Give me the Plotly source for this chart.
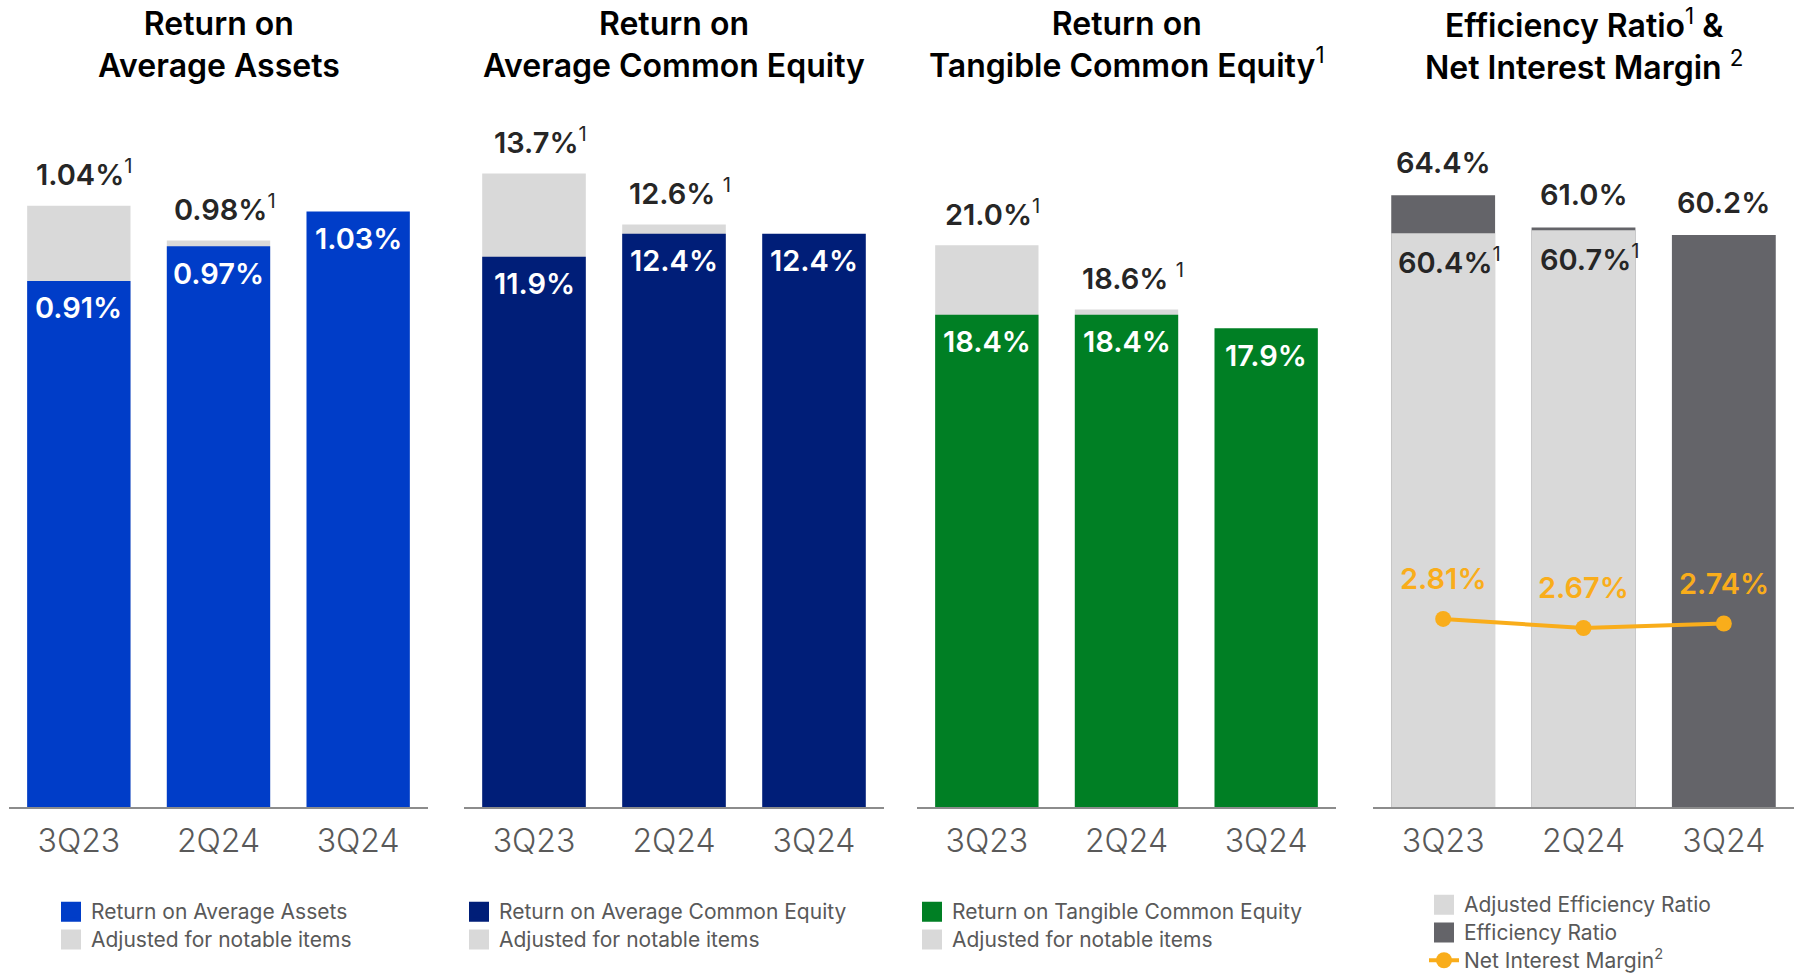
import plotly.graph_objects as go

QUARTERS = ["3Q23", "2Q24", "3Q24"]

ROAA = [0.91, 0.97, 1.03]
ROAA_ADJ = [1.04, 0.98, None]
ROACE = [11.9, 12.4, 12.4]
ROACE_ADJ = [13.7, 12.6, None]
ROTCE = [18.4, 18.4, 17.9]
ROTCE_ADJ = [21.0, 18.6, None]
EFF = [64.4, 61.0, 60.2]
EFF_ADJ = [60.4, 60.7, None]
NIM = [2.81, 2.67, 2.74]

ROAA_TOP = ["1.04%", "0.98%", None]
ROAA_IN = ["0.91%", "0.97%", "1.03%"]
ROACE_TOP = ["13.7%", "12.6% ", None]
ROACE_IN = ["11.9%", "12.4%", "12.4%"]
ROTCE_TOP = ["21.0%", "18.6% ", None]
ROTCE_IN = ["18.4%", "18.4%", "17.9%"]
EFF_TOP = ["64.4%", "61.0%", "60.2%"]
EFF_IN = ["60.4%", "60.7%", None]
NIM_TXT = ["2.81%", "2.67%", "2.74%"]

_BLUE = "#003DC8"
_NAVY = "#001E78"
_GREEN = "#007F24"
_LIGHT = "#D9D9D9"
_DARK = "#646469"
_ORANGE = "#F9AD1B"
_TEXT = "#262626"
_TICK = "#595959"
_AXIS = "#8C8C8C"
_FONT = "Inter, Lato, sans-serif"

W, H = 1797, 980
_XDOM = [(9, 428), (464, 884), (917, 1336), (1373, 1794)]
_YDOM = [(H - 807) / H, (H - 100) / H]
_SUP = "<sup><span style='font-weight:400'>1</span></sup>"

fig = go.Figure()


def _bars(vals, color, ax):
    fig.add_trace(go.Bar(
        x=QUARTERS, y=vals, marker=dict(color=color, line=dict(width=0)),
        xaxis=f"x{ax}", yaxis=f"y{ax}", showlegend=False, hoverinfo="skip",
    ))


def _name(text):
    # legend rows are spaced by the legend font; the visible text is a bit larger
    return f"<span style='font-size:21px'>{text}</span>"


def _swatch(name, color, legend):
    fig.add_trace(go.Scatter(
        x=[None], y=[None], mode="markers", name=_name(name), legend=legend,
        marker=dict(symbol="square", size=16, color=color, line=dict(width=4, color=color)),
    ))


panels = [
    (ROAA_ADJ, ROAA, _LIGHT, _BLUE),
    (ROACE_ADJ, ROACE, _LIGHT, _NAVY),
    (ROTCE_ADJ, ROTCE, _LIGHT, _GREEN),
    (EFF, EFF_ADJ, _DARK, _LIGHT),
]
for i, (back, front, cback, cfront) in enumerate(panels, start=1):
    ax = "" if i == 1 else str(i)
    _bars(back, cback, ax)
    _bars(front, cfront, ax)

_swatch("Return on Average Assets", _BLUE, "legend")
_swatch("Adjusted for notable items", _LIGHT, "legend")
_swatch("Return on Average Common Equity", _NAVY, "legend2")
_swatch("Adjusted for notable items", _LIGHT, "legend2")
_swatch("Return on Tangible Common Equity", _GREEN, "legend3")
_swatch("Adjusted for notable items", _LIGHT, "legend3")
_swatch("Adjusted Efficiency Ratio", _LIGHT, "legend4")
_swatch("Efficiency Ratio", _DARK, "legend4")

fig.add_trace(go.Scatter(
    x=QUARTERS, y=NIM, mode="lines+markers", name=_name("Net Interest Margin<sup>2</sup>"),
    line=dict(color=_ORANGE, width=4), marker=dict(size=16, color=_ORANGE),
    xaxis="x4", yaxis="y5", legend="legend4", hoverinfo="skip",
))

annotations = []


def _lab(texts, vals, ax, color, shift, sup=False, yref=None):
    for q, t, v in zip(QUARTERS, texts, vals):
        if t is None or v is None:
            continue
        txt = t + (_SUP if sup else "")
        annotations.append(dict(
            x=q, y=v, xref=f"x{ax}", yref=yref or f"y{ax}", text=txt, showarrow=False,
            yshift=shift, xshift=6 if sup else 0,
            font=dict(family=_FONT, size=29, color=color, weight=600),
        ))


_lab(ROAA_TOP, ROAA_ADJ, "", _TEXT, 33, sup=True)
_lab(ROAA_IN, ROAA, "", "white", -27)
_lab(ROACE_TOP, ROACE_ADJ, "2", _TEXT, 33, sup=True)
_lab(ROACE_IN, ROACE, "2", "white", -27)
_lab(ROTCE_TOP, ROTCE_ADJ, "3", _TEXT, 33, sup=True)
_lab(ROTCE_IN, ROTCE, "3", "white", -27)
_lab(EFF_TOP, EFF, "4", _TEXT, 33)
_lab(EFF_IN, EFF_ADJ, "4", _TEXT, -27, sup=True)
_lab(NIM_TXT, NIM, "4", _ORANGE, 40, yref="y5")

titles = [
    "Return on<br>Average Assets",
    "Return on<br>Average Common Equity",
    "Return on<br>Tangible Common Equity" + _SUP,
    "Efficiency Ratio" + _SUP + " &amp;<br>Net Interest Margin <sup><span style='font-weight:400'>2</span></sup>",
]
for (x0, x1), t in zip(_XDOM, titles):
    annotations.append(dict(
        x=(x0 + x1) / 2 / W, y=(H - 45) / H, xref="paper", yref="paper", text=t,
        showarrow=False, xanchor="center", yanchor="middle",
        font=dict(family=_FONT, size=32, color="black", weight=600),
    ))

layout = dict(
    width=W, height=H, margin=dict(l=0, r=0, t=0, b=0),
    paper_bgcolor="white", plot_bgcolor="white",
    barmode="overlay", bargap=0.26,
    font=dict(family=_FONT, color=_TICK),
    annotations=annotations,
)

y_ranges = [1.223, 15.29, 26.43, 74.42]
for i, ((x0, x1), top) in enumerate(zip(_XDOM, y_ranges), start=1):
    ax = "" if i == 1 else str(i)
    layout[f"xaxis{ax}"] = dict(
        domain=[x0 / W, x1 / W], anchor=f"y{ax}", type="category",
        categoryorder="array", categoryarray=QUARTERS,
        showline=True, linecolor=_AXIS, linewidth=2, showgrid=False, zeroline=False,
        ticks="", ticklabelstandoff=5,
        tickfont=dict(family=_FONT, size=32, color=_TICK, weight=300),
    )
    layout[f"yaxis{ax}"] = dict(
        domain=_YDOM, anchor=f"x{ax}", range=[0, top],
        showgrid=False, zeroline=False, showticklabels=False, showline=False,
    )
layout["yaxis5"] = dict(
    overlaying="y4", anchor="x4", range=[-0.114, 10.88],
    showgrid=False, zeroline=False, showticklabels=False, showline=False,
)

legend_x = [51, 459, 912, 1424]
for i, lx in enumerate(legend_x, start=1):
    key = "legend" if i == 1 else f"legend{i}"
    pos = dict(y=(H - 893) / H, yanchor="top") if i < 4 else dict(y=0, yanchor="bottom")
    layout[key] = dict(
        x=lx / W, xanchor="left", bgcolor="rgba(0,0,0,0)", itemsizing="trace",
        tracegroupgap=0, font=dict(family=_FONT, size=19, color=_TICK), **pos,
    )

fig.update_layout(**layout)
fig.write_html(
    "out.html",
    config={"displayModeBar": False},
    post_script="document.body.style.margin='0';",
)
